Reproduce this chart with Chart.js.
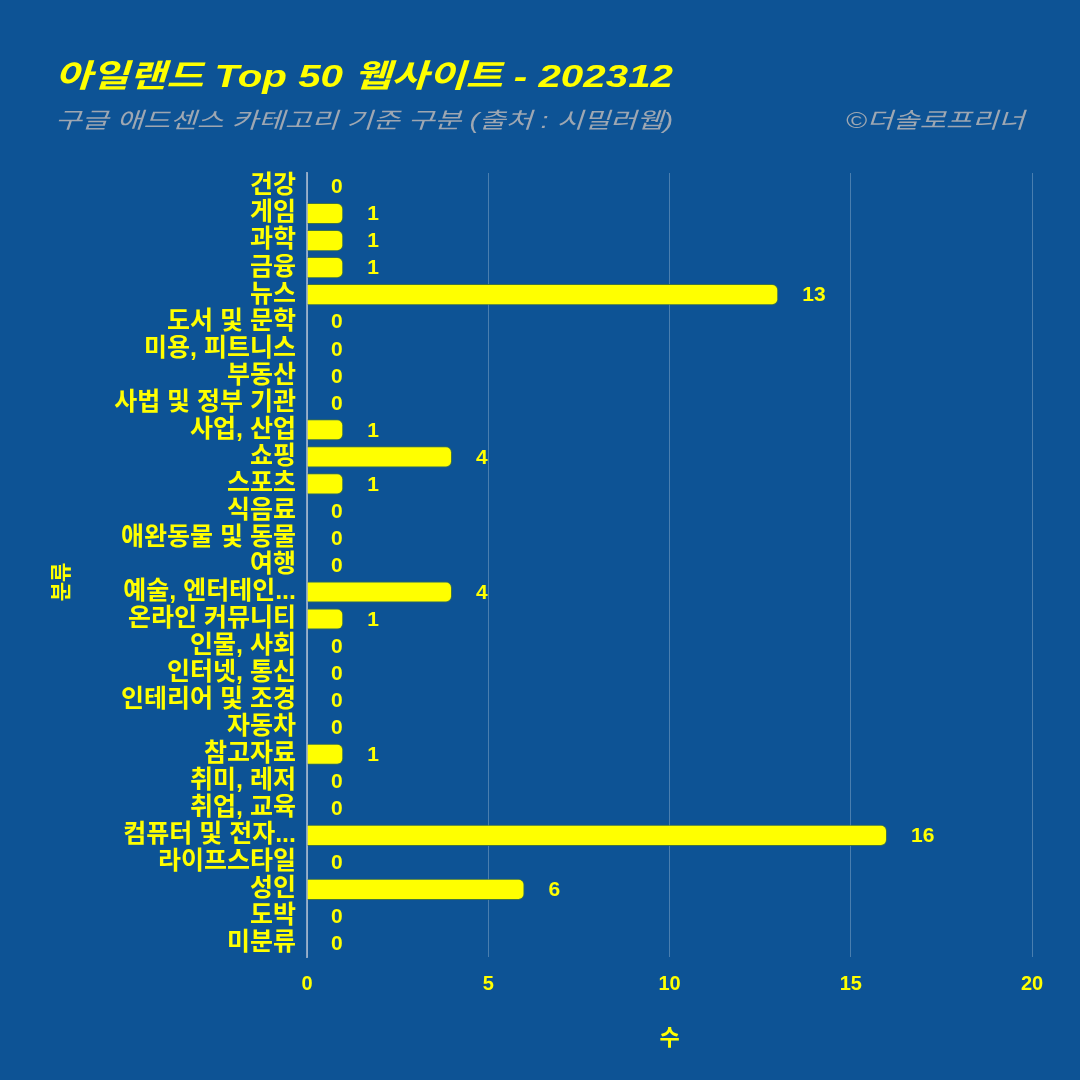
<!DOCTYPE html>
<html><head><meta charset="utf-8">
<script src="https://cdn.jsdelivr.net/npm/chart.js@4/dist/chart.umd.min.js"></script>
<style>
html,body{margin:0;padding:0;background:#0D5395;}
#wrap{position:relative;width:1080px;height:1080px;background:#0D5395;overflow:hidden;}
canvas{position:absolute;left:0;top:0;}
.t{position:absolute;white-space:nowrap;font-family:"Liberation Sans","Noto Sans CJK KR",sans-serif;font-style:italic;}
#title{left:55px;top:50px;font-size:32px;font-weight:bold;color:#FFFF00;transform:scaleX(1.26);transform-origin:left center;}
#sub{left:55px;top:102px;font-size:22px;color:#9EA7B2;transform:scaleX(1.32);transform-origin:left center;}
#credit{right:55px;top:102px;font-size:22px;color:#9EA7B2;transform:scaleX(1.3);transform-origin:right center;}
</style></head>
<body><div id="wrap">
<canvas id="c" width="1080" height="1080"></canvas>
<div class="t" id="title">아일랜드 Top 50 웹사이트 - 202312</div>
<div class="t" id="sub">구글 애드센스 카테고리 기준 구분 (출처 : 시밀러웹)</div>
<div class="t" id="credit">©더솔로프리너</div>
</div>
<script>
const categories = ["건강","게임","과학","금융","뉴스","도서 및 문학","미용, 피트니스","부동산","사법 및 정부 기관","사업, 산업","쇼핑","스포츠","식음료","애완동물 및 동물","여행","예술, 엔터테인...","온라인 커뮤니티","인물, 사회","인터넷, 통신","인테리어 및 조경","자동차","참고자료","취미, 레저","취업, 교육","컴퓨터 및 전자...","라이프스타일","성인","도박","미분류"];
const counts = [0,1,1,1,13,0,0,0,0,1,4,1,0,0,0,4,1,0,0,0,0,1,0,0,16,0,6,0,0];
const xTicks = [0,5,10,15,20];
const xTitle = "수";
const yTitle = "분류";

const FONT = '"Liberation Sans","Noto Sans CJK KR",sans-serif';
const YEL = '#FFFF00';

const extras = {
  id: 'extras',
  afterDatasetsDraw(chart) {
    const ctx = chart.ctx;
    const meta = chart.getDatasetMeta(0);
    const xs = chart.scales.x;
    ctx.save();
    ctx.font = 'bold 21px ' + FONT;
    ctx.fillStyle = YEL;
    ctx.textAlign = 'left';
    ctx.textBaseline = 'middle';
    meta.data.forEach((bar, i) => {
      const v = chart.data.datasets[0].data[i];
      ctx.fillText(String(v), xs.getPixelForValue(v) + 24, bar.y + 1);
    });
    // y axis title
    ctx.translate(62, 582);
    ctx.rotate(-Math.PI / 2);
    ctx.textAlign = 'center';
    ctx.font = 'bold 21px ' + FONT;
    ctx.fillText(yTitle, 0, 0);
    ctx.restore();
  }
};

new Chart(document.getElementById('c'), {
  type: 'bar',
  data: {
    labels: categories,
    datasets: [{
      data: counts,
      backgroundColor: YEL,
      borderColor: 'rgba(70,120,60,0.9)',
      borderWidth: 1,
      borderRadius: 6,
      barPercentage: 0.78,
      categoryPercentage: 1.0
    }]
  },
  options: {
    indexAxis: 'y',
    responsive: false,
    animation: false,
    layout: { padding: { left: 46, right: 48, top: 173, bottom: 20 } },
    plugins: { legend: { display: false }, tooltip: { enabled: false } },
    scales: {
      x: {
        min: 0, max: 20,
        afterBuildTicks(s) { s.ticks = xTicks.map(v => ({ value: v })); },
        afterFit(s) { s.height = 103; },
        grid: { color: 'rgba(255,255,255,0.25)', lineWidth: 1, drawTicks: false },
        border: { display: false },
        ticks: { color: YEL, font: { family: FONT, size: 20, weight: 'bold' }, padding: 15 },
        title: { display: true, text: xTitle, color: YEL, font: { family: FONT, size: 22, weight: 'bold' }, padding: { top: 4, bottom: 8 } }
      },
      y: {
        afterFit(s) { s.width = 307 - 46; },
        grid: { display: false, drawTicks: false },
        border: { display: true, color: 'rgba(190,200,215,0.7)', width: 2 },
        ticks: { color: YEL, font: { family: FONT, size: 25, weight: 'bold' }, padding: 11, autoSkip: false },
        title: { display: false }
      }
    }
  },
  plugins: [extras]
});
</script>
</body></html>
